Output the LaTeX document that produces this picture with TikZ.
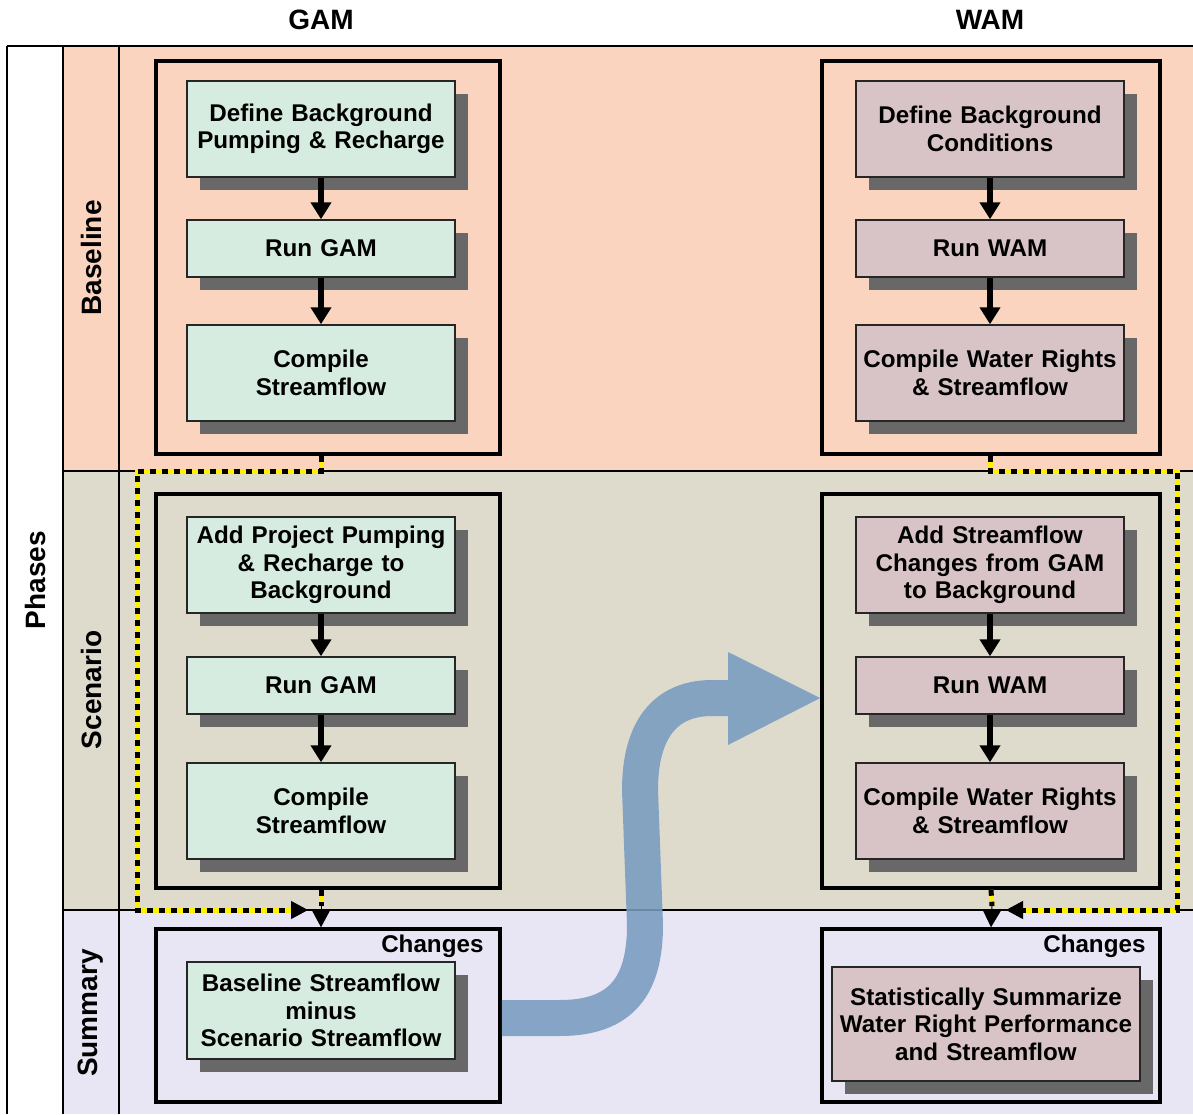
\documentclass[tikz,border=0pt]{standalone}
\usepackage{fontspec}
\setmainfont{Liberation Sans}
\usetikzlibrary{arrows.meta,shadows}

\definecolor{basefill}{RGB}{250,212,190}
\definecolor{scenfill}{RGB}{222,219,205}
\definecolor{sumfill}{RGB}{232,230,245}
\definecolor{gamfill}{RGB}{214,236,224}
\definecolor{wamfill}{RGB}{216,196,198}
\definecolor{shadowgray}{RGB}{104,104,104}
\definecolor{flowblue}{RGB}{120,156,192}
\definecolor{dotyellow}{RGB}{255,240,0}

\newcommand{\boxfont}{\fontsize{24.2}{27.5}\selectfont\bfseries}
\newcommand{\headfont}{\fontsize{28}{30}\selectfont\bfseries}

\tikzset{
  frameline/.style={line width=2pt, draw=black},
  outerbox/.style={draw=black, line width=3.5pt, minimum width=344pt, inner sep=0pt},
  stepcard/.style={draw=black!85, line width=1.5pt, minimum width=268pt, text width=264pt,
    align=center, inner sep=0pt, font=\boxfont,
    drop shadow={shadow xshift=13pt, shadow yshift=-13pt, fill=shadowgray, opacity=1}},
  gamcard/.style={stepcard, fill=gamfill},
  wamcard/.style={stepcard, fill=wamfill},
  flowarrow/.style={line width=6pt, draw=black, -{Triangle[length=17pt,width=20pt]}},
  dotted path/.style={line width=5pt, draw=black, dash pattern=on 6pt off 6pt,
    preaction={draw=dotyellow, line width=5pt}},
  tipend/.style={line width=1pt, draw=black, -{Triangle[length=17pt,width=18pt]}},
  sidelabel/.style={font=\headfont, rotate=90},
}

\begin{document}
\begin{tikzpicture}[x=1pt, y=-1pt]
\useasboundingbox (0,0) rectangle (1193,1114);

% phase bands
\fill[basefill] (63,46) rectangle (1193,471);
\fill[scenfill] (63,471) rectangle (1193,910);
\fill[sumfill] (63,910) rectangle (1193,1114);

% frame
\draw[frameline] (7,46) -- (1193,46);
\draw[frameline] (7,46) -- (7,1114);
\draw[frameline] (63,46) -- (63,1114);
\draw[frameline] (119,46) -- (119,1114);
\draw[frameline] (63,471) -- (1193,471);
\draw[frameline] (63,910) -- (1193,910);

% column and row headings
\node[font=\headfont] (tgam) at (321,20) {GAM};
\node[font=\headfont] (twam) at (990,20) {WAM};
\node[sidelabel] (lphases) at (35,580) {Phases};
\node[sidelabel] (lbase) at (91,258) {Baseline};
\node[sidelabel] (lscen) at (91,690) {Scenario};
\node[sidelabel] (lsum) at (91,1013) {Summary};

% phase containers
\node[outerbox, minimum height=393pt] (gbase) at (328,257.5) {};
\node[outerbox, minimum height=394pt] (gscen) at (328,691) {};
\node[outerbox, minimum height=173pt] (gsum) at (328,1015.5) {};
\node[outerbox, minimum width=338pt, minimum height=393pt] (wbase) at (991,257.5) {};
\node[outerbox, minimum width=338pt, minimum height=394pt] (wscen) at (991,691) {};
\node[outerbox, minimum width=338pt, minimum height=173pt] (wsum) at (991,1015.5) {};

% GAM steps
\node[gamcard, minimum height=96pt] (g1) at (321,129) {Define Background\\Pumping \& Recharge};
\node[gamcard, minimum height=57pt] (g2) at (321,248.5) {Run GAM};
\node[gamcard, minimum height=96pt] (g3) at (321,373) {Compile\\Streamflow};
\node[gamcard, minimum height=96pt] (g4) at (321,565) {Add Project Pumping\\\& Recharge to\\Background};
\node[gamcard, minimum height=57pt] (g5) at (321,685.5) {Run GAM};
\node[gamcard, minimum height=96pt] (g6) at (321,811) {Compile\\Streamflow};
\node[gamcard, minimum height=97pt] (g7) at (321,1010.5) {Baseline Streamflow\\minus\\Scenario Streamflow};

% WAM steps
\node[wamcard, minimum height=96pt] (w1) at (990,129) {Define Background\\Conditions};
\node[wamcard, minimum height=57pt] (w2) at (990,248.5) {Run WAM};
\node[wamcard, minimum height=96pt] (w3) at (990,373) {Compile Water Rights\\\& Streamflow};
\node[wamcard, minimum height=96pt] (w4) at (990,565) {Add Streamflow\\Changes from GAM\\to Background};
\node[wamcard, minimum height=57pt] (w5) at (990,685.5) {Run WAM};
\node[wamcard, minimum height=96pt] (w6) at (990,811) {Compile Water Rights\\\& Streamflow};
\node[wamcard, minimum width=308pt, text width=304pt, minimum height=114pt] (w7) at (986,1024) {Statistically Summarize\\Water Right Performance\\and Streamflow};

% summary captions
\node[font=\boxfont, anchor=east] (cg) at (487,946) {Changes};
\node[font=\boxfont, anchor=east] (cw) at (1149,946) {Changes};

% step arrows
\foreach \a/\b in {g1/g2,g2/g3,g4/g5,g5/g6,w1/w2,w2/w3,w4/w5,w5/w6}
  \draw[flowarrow] (\a.south) -- (\b.north);

% baseline-to-summary dotted links
\coordinate (gdrop) at (321,471);
\coordinate (gleft) at (137,471);
\coordinate (gcorner) at (137,910);
\coordinate (gend) at (292,910);
\coordinate (gtip) at (308,910);
\draw[dotted path] (g3.south |- gbase.south) -- (gdrop) -- (gleft) -- (gcorner) -- (gend);
\draw[tipend] (gend) -- (gtip);

\coordinate (wdrop) at (990,471);
\coordinate (wright) at (1177,471);
\coordinate (wcorner) at (1177,910);
\coordinate (wend) at (1022,910);
\coordinate (wtip) at (1006,910);
\draw[dotted path] (w3.south |- wbase.south) -- (wdrop) -- (wright) -- (wcorner) -- (wend);
\draw[tipend] (wend) -- (wtip);

% scenario-to-summary links
\coordinate (gmid) at (321,906);
\draw[dotted path] (g6.south |- gscen.south) -- (gmid);
\draw[tipend] (gmid) -- (g7.north |- gsum.north);
\coordinate (wmid) at (992,906);
\draw[dotted path] (wscen.south) -- (wmid);
\draw[tipend] (wmid) -- (wsum.north);

% GAM changes feed the WAM scenario
\coordinate (bhead) at (729,698);
\begin{scope}[transparency group, opacity=0.88]
  \draw[flowblue, line width=36pt]
    (gsum.east |- 0,1018) -- (560,1018) .. controls (622,1018) and (645,985) .. (645,925)
    -- (640,790) .. controls (640,730) and (665,698) .. (712,698) -- (bhead);
  \fill[flowblue] (728,652) -- (wscen.west |- bhead) -- (728,745) -- cycle;
\end{scope}
\end{tikzpicture}
\end{document}
